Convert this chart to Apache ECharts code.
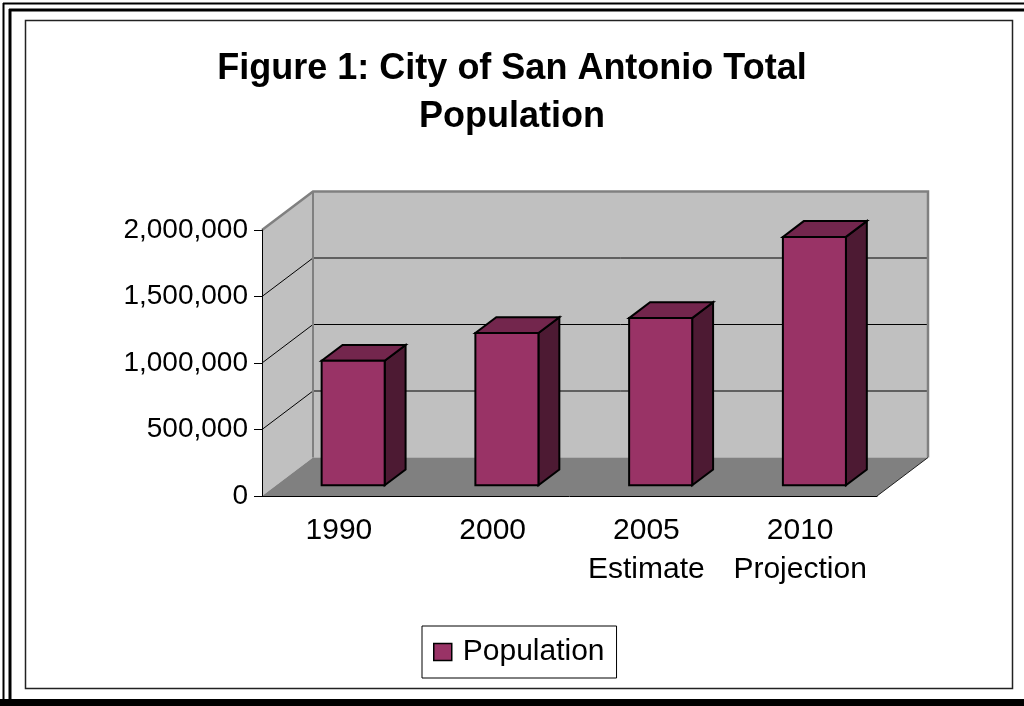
<!DOCTYPE html>
<html>
<head>
<meta charset="utf-8">
<script src="https://cdn.jsdelivr.net/npm/echarts@6/dist/echarts.min.js"></script>
<style>
  html, body { margin: 0; padding: 0; background: #fff; }
  #chart { width: 1024px; height: 706px; }
</style>
</head>
<body>
<div id="chart"></div>
<script>
// ---- data ----
const titleLines = ['Figure 1: City of San Antonio Total', 'Population'];
const categories = ['1990', '2000', '2005\nEstimate', '2010\nProjection'];
const seriesName = 'Population';
const population = [935933, 1144646, 1256509, 1867000];
const yTicks = [0, 500000, 1000000, 1500000, 2000000];

// ---- 3D look (pixels / fractions) ----
const DX = 51, DY = -38.5;          // full depth offset of the box
const BAR_FRONT = 0.28, BAR_BACK = 0.69, BAR_W = 0.41;
const FONT = '"Liberation Sans", Arial, sans-serif';

const chart = echarts.init(document.getElementById('chart'), null, { renderer: 'canvas' });

function fmt(v) { return String(v).replace(/\B(?=(\d{3})+(?!\d))/g, ','); }

function renderWalls(params, api) {
  if (params.dataIndex !== 0) return;
  const cs = params.coordSys;
  const x0 = cs.x, x1 = cs.x + cs.width;
  const yb = api.coord([0, yTicks[0]])[1];
  const yt = api.coord([0, yTicks[yTicks.length - 1]])[1];
  const ch = [];
  ch.push({ type: 'polygon', shape: { points: [[x0, yb], [x0, yt], [x0 + DX, yt + DY], [x0 + DX, yb + DY]] }, style: { fill: '#C0C0C0' } });
  ch.push({ type: 'polygon', shape: { points: [[x0 + DX, yt + DY], [x1 + DX, yt + DY], [x1 + DX, yb + DY], [x0 + DX, yb + DY]] }, style: { fill: '#C0C0C0' } });
  ch.push({ type: 'polygon', shape: { points: [[x0, yb], [x1, yb], [x1 + DX, yb + DY], [x0 + DX, yb + DY]] }, style: { fill: '#808080' } });
  for (let k = 1; k < yTicks.length - 1; k++) {
    const y = api.coord([0, yTicks[k]])[1];
    ch.push({ type: 'polyline', shape: { points: [[x0, y], [x0 + DX, y + DY], [x1 + DX, y + DY]] }, style: { stroke: '#000', lineWidth: 1, fill: null } });
  }
  ch.push({ type: 'polyline', shape: { points: [[x0, yt], [x0 + DX, yt + DY], [x1 + DX, yt + DY], [x1 + DX, yb + DY]] }, style: { stroke: '#808080', lineWidth: 2.5, fill: null } });
  ch.push({ type: 'line', shape: { x1: x0 + DX, y1: yt + DY, x2: x0 + DX, y2: yb + DY }, style: { stroke: '#808080', lineWidth: 2 } });
  ch.push({ type: 'line', shape: { x1: x1, y1: yb, x2: x1 + DX, y2: yb + DY }, style: { stroke: '#202020', lineWidth: 1 } });
  return { type: 'group', children: ch };
}

function renderBar(params, api) {
  const i = api.value(0), v = api.value(1);
  const base = api.coord([i, 0]);
  const top = api.coord([i, v]);
  const band = api.size([1, 0])[0];
  const w = band * BAR_W;
  const fx = base[0] - w / 2 + BAR_FRONT * DX;
  const yb = base[1] + BAR_FRONT * DY;
  const yt = top[1] + BAR_FRONT * DY;
  const ddx = (BAR_BACK - BAR_FRONT) * DX, ddy = (BAR_BACK - BAR_FRONT) * DY;
  const st = { stroke: '#000', lineWidth: 2, lineJoin: 'miter' };
  return {
    type: 'group',
    children: [
      { type: 'polygon', shape: { points: [[fx + w, yt], [fx + w + ddx, yt + ddy], [fx + w + ddx, yb + ddy], [fx + w, yb]] }, style: Object.assign({ fill: '#4D1A33' }, st) },
      { type: 'polygon', shape: { points: [[fx, yt], [fx + w, yt], [fx + w + ddx, yt + ddy], [fx + ddx, yt + ddy]] }, style: Object.assign({ fill: '#73264D' }, st) },
      { type: 'rect', shape: { x: fx, y: yt, width: w, height: yb - yt }, style: Object.assign({ fill: '#993366' }, st) }
    ]
  };
}

const option = {
  animation: false,
  backgroundColor: '#ffffff',
  textStyle: { fontFamily: FONT },
  graphic: [
    { type: 'line', shape: { x1: 3.5, y1: 3, x2: 3.5, y2: 706 }, style: { stroke: '#000', lineWidth: 2 } },
    { type: 'line', shape: { x1: 3, y1: 3.5, x2: 1024, y2: 3.5 }, style: { stroke: '#000', lineWidth: 2 } },
    { type: 'line', shape: { x1: 10, y1: 9, x2: 10, y2: 706 }, style: { stroke: '#000', lineWidth: 3 } },
    { type: 'line', shape: { x1: 9, y1: 10, x2: 1024, y2: 10 }, style: { stroke: '#000', lineWidth: 3 } },
    { type: 'rect', shape: { x: 0, y: 699, width: 1024, height: 7 }, style: { fill: '#000' } },
    { type: 'rect', shape: { x: 25.5, y: 20.5, width: 987, height: 668 }, style: { fill: null, stroke: '#222', lineWidth: 1.5 } },
    { type: 'text', x: 512, y: 69.5, style: { text: titleLines[0], font: 'bold 36px ' + FONT, fill: '#000', align: 'center', verticalAlign: 'middle', textAlign: 'center', textVerticalAlign: 'middle' } },
    { type: 'text', x: 512, y: 117.5, style: { text: titleLines[1], font: 'bold 36px ' + FONT, fill: '#000', align: 'center', verticalAlign: 'middle', textAlign: 'center', textVerticalAlign: 'middle' } }
  ],
  legend: {
    data: [seriesName],
    left: 422, top: 626,
    padding: [11, 12, 11, 11],
    borderColor: '#000', borderWidth: 1,
    backgroundColor: '#fff',
    icon: 'rect',
    itemWidth: 18, itemHeight: 17,
    itemStyle: { borderColor: '#000', borderWidth: 1.5 },
    textStyle: { fontSize: 30, color: '#000', fontFamily: FONT, padding: [0, 0, 0, 6] }
  },
  grid: { left: 262, top: 230, width: 615, height: 266, containLabel: false },
  xAxis: {
    type: 'category', data: categories, z: 10,
    axisLine: { lineStyle: { color: '#000', width: 1 } },
    axisTick: { length: 8, lineStyle: { color: '#000' } },
    axisLabel: { interval: 0, fontSize: 30, color: '#000', fontFamily: FONT, lineHeight: 39, margin: 15 }
  },
  yAxis: {
    type: 'value', min: yTicks[0], max: yTicks[yTicks.length - 1], interval: yTicks[1] - yTicks[0], z: 10,
    axisLine: { show: true, lineStyle: { color: '#000', width: 1 } },
    axisTick: { show: true, length: 8, lineStyle: { color: '#000' } },
    splitLine: { show: false },
    axisLabel: { fontSize: 28, color: '#000', fontFamily: FONT, margin: 14, formatter: fmt }
  },
  series: [
    { type: 'custom', name: 'walls', silent: true, z: 1, renderItem: renderWalls, data: [[0, 0]], encode: { x: 0, y: 1 } },
    { type: 'custom', name: seriesName, z: 3, renderItem: renderBar, itemStyle: { color: '#993366' },
      data: population.map((v, i) => [i, v]), encode: { x: 0, y: 1 } }
  ]
};
chart.setOption(option);
</script>
</body>
</html>
